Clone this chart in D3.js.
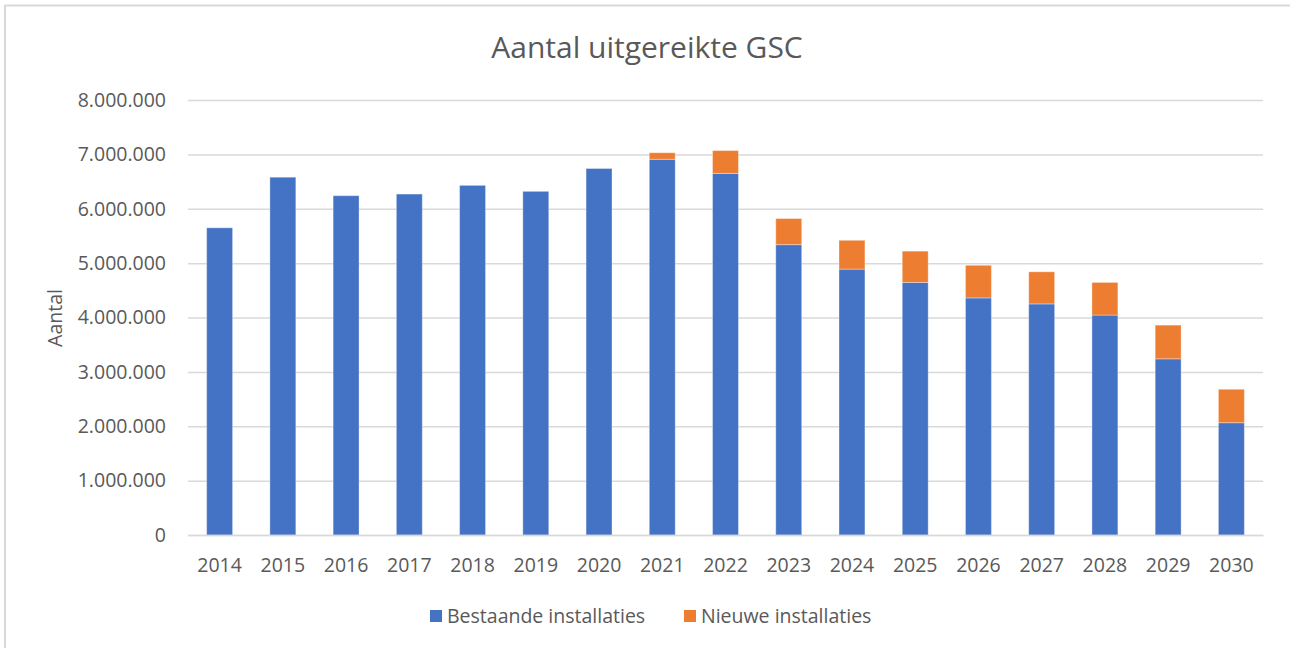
<!DOCTYPE html>
<html>
<head>
<meta charset="UTF-8">
<title>Aantal uitgereikte GSC</title>
<script src="https://cdn.jsdelivr.net/npm/d3@7"></script>
<style>
  body { margin: 0; background: #fff; }
  text { font-family: "Open Sans", "Noto Sans", sans-serif; fill: #595959; }
</style>
</head>
<body>
<div id="chart"></div>
<script>
// jaren en waarden
var years = ["2014", "2015", "2016", "2017", "2018", "2019", "2020", "2021", "2022",
             "2023", "2024", "2025", "2026", "2027", "2028", "2029", "2030"];
var bestaand = [5650000, 6580000, 6240000, 6270000, 6430000, 6320000, 6740000, 6910000, 6650000,
                5340000, 4890000, 4645000, 4360000, 4250000, 4045000, 3240000, 2065000];
var nieuw = [0, 0, 0, 0, 0, 0, 0, 120000, 420000,
             480000, 530000, 575000, 600000, 590000, 600000, 620000, 615000];
var seriesNames = ["Bestaande installaties", "Nieuwe installaties"];
var seriesColors = ["#4472C4", "#ED7D31"];
var yTicks = [0, 1000000, 2000000, 3000000, 4000000, 5000000, 6000000, 7000000, 8000000];

var W = 1290, H = 648;
var plotL = 188, plotR = 1263, plotT = 100, plotB = 535;

var svg = d3.select("#chart").append("svg")
    .attr("width", W)
    .attr("height", H);

// rand (alleen boven en links zichtbaar)
svg.append("path")
    .attr("d", "M5," + H + "V5.5H" + W)
    .attr("fill", "none")
    .attr("stroke", "#D9D9D9")
    .attr("stroke-width", 2);

var x = d3.scaleBand().domain(years).range([plotL, plotR]).paddingInner(0.59).paddingOuter(0.295);
var y = d3.scaleLinear().domain([0, 8000000]).range([plotB, plotT]);

var fmt = function (v) {
    return d3.format(",")(v).replace(/,/g, ".");
};

// rasterlijnen + y-as labels
var yAxis = d3.axisLeft(y).tickValues(yTicks).tickSize(-(plotR - plotL)).tickFormat(fmt).tickPadding(22);
var gy = svg.append("g").attr("transform", "translate(" + plotL + ",0)").call(yAxis);
gy.select(".domain").remove();
gy.selectAll(".tick line").attr("stroke", "#D9D9D9").attr("stroke-width", 1.5);
gy.selectAll(".tick text").style("font-size", "19.5px").attr("fill", "#595959");

// gestapelde balken
var rows = years.map(function (yr, i) {
    return {year: yr, b: bestaand[i], n: nieuw[i]};
});
var stack = d3.stack().keys(["b", "n"]);
var layers = stack(rows);

svg.selectAll("g.layer")
    .data(layers)
    .enter()
    .append("g")
    .attr("class", "layer")
    .attr("fill", function (d, i) { return seriesColors[i]; })
    .selectAll("rect")
    .data(function (d) { return d.filter(function (p) { return p[1] > p[0]; }); })
    .enter()
    .append("rect")
    .attr("x", function (d) { return x(d.data.year); })
    .attr("width", x.bandwidth())
    .attr("y", function (d) { return y(d[1]); })
    .attr("height", function (d) { return y(d[0]) - y(d[1]); })
    .attr("stroke", "rgba(255,255,255,0.35)")
    .attr("stroke-width", 1);

// x-as labels
var xAxis = d3.axisBottom(x).tickSize(0).tickPadding(23);
var gx = svg.append("g").attr("transform", "translate(0," + plotB + ")").call(xAxis);
gx.select(".domain").attr("stroke", "#D9D9D9").attr("stroke-width", 1.5);
gx.selectAll(".tick text").style("font-size", "19.5px").attr("fill", "#595959");

// titel
svg.append("text")
    .attr("x", 647).attr("y", 58)
    .attr("text-anchor", "middle")
    .style("font-size", "30px")
    .text("Aantal uitgereikte GSC");

// as-titel
svg.append("text")
    .attr("transform", "translate(62,318) rotate(-90)")
    .attr("text-anchor", "middle")
    .style("font-size", "19.5px")
    .text("Aantal");

// legenda
var legend = svg.append("g");
var legX = [430, 684];
seriesNames.forEach(function (name, i) {
    legend.append("rect")
        .attr("x", legX[i]).attr("y", 610)
        .attr("width", 12).attr("height", 12)
        .attr("fill", seriesColors[i]);
    legend.append("text")
        .attr("x", legX[i] + 17).attr("y", 623)
        .style("font-size", "19.5px")
        .text(name);
});
</script>
</body>
</html>
